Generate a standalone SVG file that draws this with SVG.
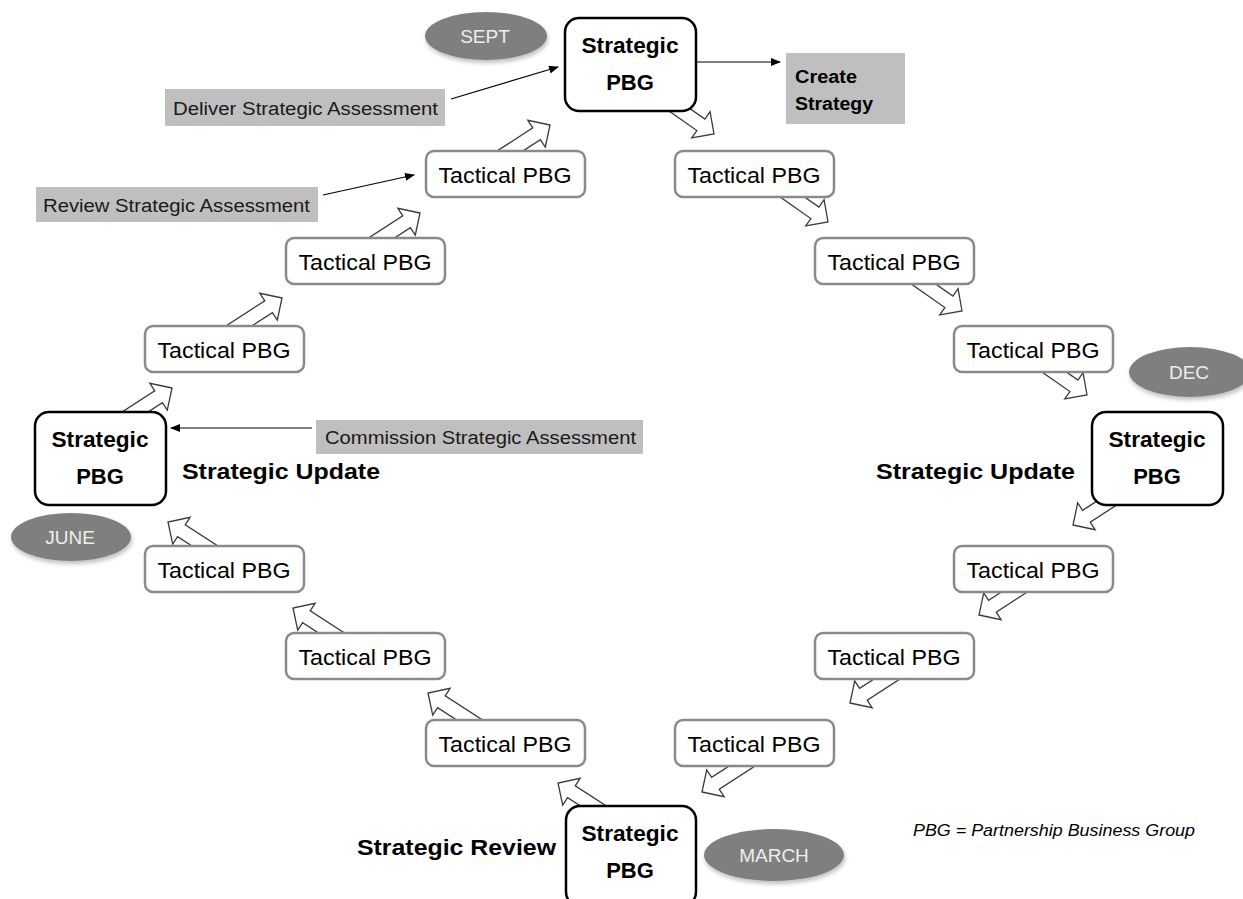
<svg xmlns="http://www.w3.org/2000/svg" xmlns:xlink="http://www.w3.org/1999/xlink" width="1243" height="899" viewBox="0 0 1243 899">
<style>
.bg{fill:#ffffff}
.tac{fill:#ffffff;stroke:#8a8a8a;stroke-width:2.5}
.str{fill:#ffffff;stroke:#000000;stroke-width:2.5}
.blk{fill:#ffffff;stroke:#3a3a3a;stroke-width:1.3;stroke-linejoin:miter}
.lbl{fill:#bfbfbf}
.ell{fill:#7f7f7f}
.t{font-family:"Liberation Sans",Arial,sans-serif;fill:#000}
.tt{font-size:22px;text-anchor:middle}
.st{font-size:22px;font-weight:bold;text-anchor:middle}
.lt{font-size:18px;fill:#1a1a1a}
.hd{font-size:22px;font-weight:bold}
.et{font-family:"Liberation Sans",Arial,sans-serif;font-size:19px;fill:#eeeeee;text-anchor:middle}
.thin{stroke:#000;stroke-width:1.2;fill:none;marker-end:url(#ah)}
</style>
<defs>
<marker id="ah" markerWidth="10" markerHeight="8" refX="9" refY="4" orient="auto" markerUnits="userSpaceOnUse">
<path d="M0,0 L10,4 L0,8 Z" fill="#000"/>
</marker>
<path id="ba" d="M0,0 L-16,-16 L-16,-7 L-60,-7 L-60,7 L-16,7 L-16,16 Z"/>
<filter id="sh" x="-20%" y="-20%" width="140%" height="150%">
<feGaussianBlur in="SourceAlpha" stdDeviation="2"/>
<feOffset dx="1" dy="3" result="b"/>
<feComponentTransfer><feFuncA type="linear" slope="0.25"/></feComponentTransfer>
<feMerge><feMergeNode/><feMergeNode in="SourceGraphic"/></feMerge>
</filter>
</defs>
<rect class="bg" x="0" y="0" width="1243" height="899"/>

<g id="connectors">
<g class="blk">
<use xlink:href="#ba" href="#ba" transform="translate(714,134) rotate(35)"/>
<use xlink:href="#ba" href="#ba" transform="translate(828,222) rotate(35)"/>
<use xlink:href="#ba" href="#ba" transform="translate(962,311) rotate(35)"/>
<use xlink:href="#ba" href="#ba" transform="translate(1087,395) rotate(35)"/>
<use xlink:href="#ba" href="#ba" transform="translate(1073,525) rotate(147)"/>
<use xlink:href="#ba" href="#ba" transform="translate(979,615) rotate(147)"/>
<use xlink:href="#ba" href="#ba" transform="translate(850,703) rotate(147)"/>
<use xlink:href="#ba" href="#ba" transform="translate(702,792) rotate(147)"/>
<use xlink:href="#ba" href="#ba" transform="translate(558,783) rotate(-147)"/>
<use xlink:href="#ba" href="#ba" transform="translate(428,693) rotate(-147)"/>
<use xlink:href="#ba" href="#ba" transform="translate(293,608) rotate(-147)"/>
<use xlink:href="#ba" href="#ba" transform="translate(168,522) rotate(-147)"/>
<use xlink:href="#ba" href="#ba" transform="translate(172,388) rotate(-33)"/>
<use xlink:href="#ba" href="#ba" transform="translate(282,298) rotate(-33)"/>
<use xlink:href="#ba" href="#ba" transform="translate(420,213) rotate(-33)"/>
<use xlink:href="#ba" href="#ba" transform="translate(550,125) rotate(-33)"/>
</g>
<line class="thin" x1="451" y1="99" x2="558" y2="67"/>
<line class="thin" x1="697" y1="62" x2="780" y2="62"/>
<line class="thin" x1="323" y1="195" x2="414" y2="175"/>
<line class="thin" x1="312" y1="428" x2="171" y2="428"/>
</g>

<g id="label-deliver"><rect class="lbl" x="165" y="89" width="280" height="37"/><text class="t lt" x="173" y="115" textLength="265" lengthAdjust="spacingAndGlyphs">Deliver Strategic Assessment</text></g>
<g id="label-review"><rect class="lbl" x="36" y="187" width="282" height="35"/><text class="t lt" x="43" y="212" textLength="267" lengthAdjust="spacingAndGlyphs">Review Strategic Assessment</text></g>
<g id="label-commission"><rect class="lbl" x="316" y="420" width="327" height="34"/><text class="t lt" x="325" y="444" textLength="311" lengthAdjust="spacingAndGlyphs">Commission Strategic Assessment</text></g>
<g id="label-create"><rect class="lbl" x="786" y="53" width="119" height="71"/><text class="t" style="font-size:18px;font-weight:bold" x="795" y="83" textLength="62" lengthAdjust="spacingAndGlyphs">Create</text><text class="t" style="font-size:18px;font-weight:bold" x="795" y="110" textLength="78" lengthAdjust="spacingAndGlyphs">Strategy</text></g>

<g id="s-top"><rect class="str" x="565" y="18" width="131" height="93" rx="14"/><text class="t st" x="630" y="53" textLength="97" lengthAdjust="spacingAndGlyphs">Strategic</text><text class="t st" x="630" y="90">PBG</text></g>
<g id="s-left"><rect class="str" x="35" y="412" width="131" height="93" rx="14"/><text class="t st" x="100" y="447" textLength="97" lengthAdjust="spacingAndGlyphs">Strategic</text><text class="t st" x="100" y="484">PBG</text></g>
<g id="s-right"><rect class="str" x="1092" y="412" width="131" height="93" rx="14"/><text class="t st" x="1157" y="447" textLength="97" lengthAdjust="spacingAndGlyphs">Strategic</text><text class="t st" x="1157" y="484">PBG</text></g>
<g id="s-bottom"><rect class="str" x="566" y="806" width="130" height="100" rx="14"/><text class="t st" x="630" y="841" textLength="97" lengthAdjust="spacingAndGlyphs">Strategic</text><text class="t st" x="630" y="878">PBG</text></g>

<g id="t1"><rect class="tac" x="426" y="151" width="159" height="46" rx="8"/><text class="t tt" x="505" y="183" textLength="133" lengthAdjust="spacingAndGlyphs">Tactical PBG</text></g>
<g id="t2"><rect class="tac" x="286" y="238" width="159" height="46" rx="8"/><text class="t tt" x="365" y="270" textLength="133" lengthAdjust="spacingAndGlyphs">Tactical PBG</text></g>
<g id="t3"><rect class="tac" x="145" y="326" width="159" height="46" rx="8"/><text class="t tt" x="224" y="358" textLength="133" lengthAdjust="spacingAndGlyphs">Tactical PBG</text></g>
<g id="t4"><rect class="tac" x="675" y="151" width="159" height="46" rx="8"/><text class="t tt" x="754" y="183" textLength="133" lengthAdjust="spacingAndGlyphs">Tactical PBG</text></g>
<g id="t5"><rect class="tac" x="815" y="238" width="159" height="46" rx="8"/><text class="t tt" x="894" y="270" textLength="133" lengthAdjust="spacingAndGlyphs">Tactical PBG</text></g>
<g id="t6"><rect class="tac" x="954" y="326" width="159" height="46" rx="8"/><text class="t tt" x="1033" y="358" textLength="133" lengthAdjust="spacingAndGlyphs">Tactical PBG</text></g>
<g id="t7"><rect class="tac" x="954" y="546" width="159" height="46" rx="8"/><text class="t tt" x="1033" y="578" textLength="133" lengthAdjust="spacingAndGlyphs">Tactical PBG</text></g>
<g id="t8"><rect class="tac" x="815" y="633" width="159" height="46" rx="8"/><text class="t tt" x="894" y="665" textLength="133" lengthAdjust="spacingAndGlyphs">Tactical PBG</text></g>
<g id="t9"><rect class="tac" x="675" y="720" width="159" height="46" rx="8"/><text class="t tt" x="754" y="752" textLength="133" lengthAdjust="spacingAndGlyphs">Tactical PBG</text></g>
<g id="t10"><rect class="tac" x="145" y="546" width="159" height="46" rx="8"/><text class="t tt" x="224" y="578" textLength="133" lengthAdjust="spacingAndGlyphs">Tactical PBG</text></g>
<g id="t11"><rect class="tac" x="286" y="633" width="159" height="46" rx="8"/><text class="t tt" x="365" y="665" textLength="133" lengthAdjust="spacingAndGlyphs">Tactical PBG</text></g>
<g id="t12"><rect class="tac" x="426" y="720" width="159" height="46" rx="8"/><text class="t tt" x="505" y="752" textLength="133" lengthAdjust="spacingAndGlyphs">Tactical PBG</text></g>

<g id="m-sept"><ellipse class="ell" cx="486" cy="36" rx="61" ry="24" filter="url(#sh)"/><text class="et" x="485" y="43">SEPT</text></g>
<g id="m-dec"><ellipse class="ell" cx="1190" cy="372" rx="61" ry="25" filter="url(#sh)"/><text class="et" x="1189" y="379">DEC</text></g>
<g id="m-june"><ellipse class="ell" cx="71" cy="537" rx="60" ry="24" filter="url(#sh)"/><text class="et" x="70" y="544">JUNE</text></g>
<g id="m-march"><ellipse class="ell" cx="774" cy="855" rx="70" ry="26" filter="url(#sh)"/><text class="et" x="774" y="862">MARCH</text></g>

<g id="headings">
<text class="t hd" x="182" y="479" textLength="198" lengthAdjust="spacingAndGlyphs">Strategic Update</text>
<text class="t hd" x="876" y="479" textLength="199" lengthAdjust="spacingAndGlyphs">Strategic Update</text>
<text class="t hd" x="357" y="855" textLength="199" lengthAdjust="spacingAndGlyphs">Strategic Review</text>
<text class="t" style="font-size:17px;font-style:italic" x="913" y="836" textLength="282" lengthAdjust="spacingAndGlyphs">PBG = Partnership Business Group</text>
</g>
</svg>
